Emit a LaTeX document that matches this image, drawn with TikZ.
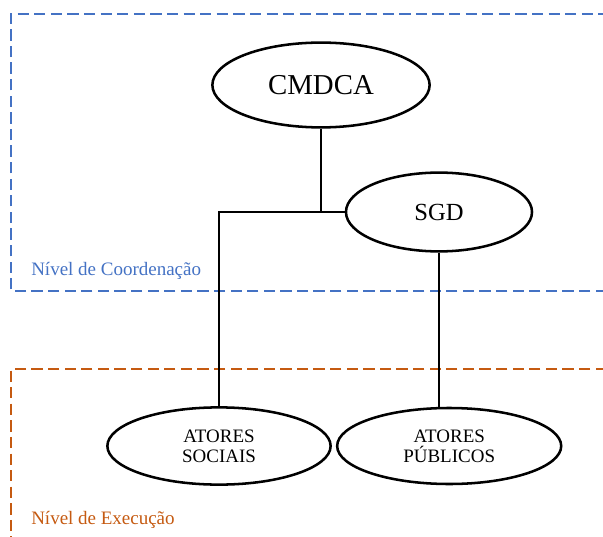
\documentclass[tikz,border=0pt]{standalone}
\usepackage{fontspec}
\setmainfont{Liberation Serif}
\usepackage{tikz}
\usetikzlibrary{shapes,positioning,calc}

\definecolor{azul}{RGB}{68,114,196}
\definecolor{laranja}{RGB}{197,90,17}

\begin{document}
\begin{tikzpicture}[x=0.025cm, y=-0.025cm]
\tikzset{
    %styl elipsy
    elipse/.style={
           ellipse, draw=black, line width=1.8pt,
           inner sep=0pt, align=center},
    %linie laczace
    ligacao/.style={line width=2pt, draw=black},
    %ramki poziomow
    nivel/.style={line width=2.1pt, dash pattern=on 8pt off 3.8pt},
    rotulo/.style={anchor=west, inner sep=0pt, font=\fontsize{13.5}{16}\selectfont}
}
\clip (0,0) rectangle (603,537);

%Ramki
\draw[nivel, azul] (640,291) -- (11,291) -- (11,14) -- (640,14);
\draw[nivel, laranja] (640,369) -- (11,369) -- (11,560);
\node[rotulo, text=azul] (coord) at (31,271) {Nível de Coordenação};
\node[rotulo, text=laranja] (exec) at (31,520) {Nível de Execução};

%Elipsy
\node[elipse, minimum width=5.43cm, minimum height=2.12cm,
      font=\fontsize{20.5}{24}\selectfont] (cmdca) at (321,85) {CMDCA};
\node[elipse, minimum width=4.65cm, minimum height=1.97cm,
      font=\fontsize{17.5}{21}\selectfont] (sgd) at (439,212) {SGD};
\node[elipse, minimum width=5.58cm, minimum height=1.93cm,
      font=\fontsize{13.5}{14.5}\selectfont] (sociais) at (219,446) {ATORES\\SOCIAIS};
\node[elipse, minimum width=5.6cm, minimum height=1.9cm,
      font=\fontsize{13.5}{14.5}\selectfont, right=0.1cm of sociais] (publicos) {ATORES\\PÚBLICOS};

%Linie
\draw[ligacao] (cmdca.south) -- (cmdca.south |- sgd.west);
\draw[ligacao] (sgd.west) -| (sociais.north);
\draw[ligacao] (sgd.south) -- (sgd.south |- publicos.north);
\end{tikzpicture}
\end{document}
